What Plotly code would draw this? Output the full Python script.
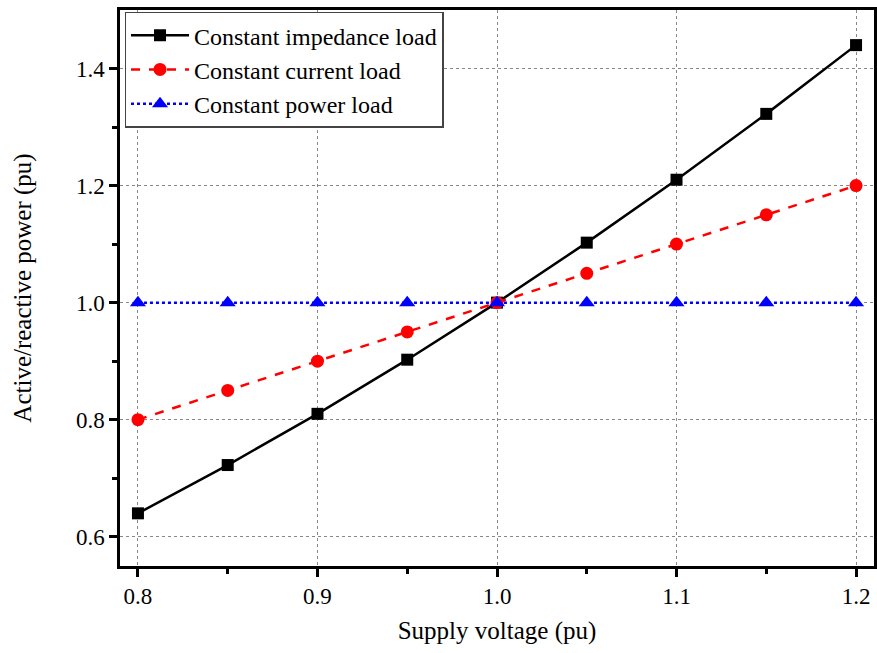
import plotly.graph_objects as go

voltage = [0.8, 0.85, 0.9, 0.95, 1.0, 1.05, 1.1, 1.15, 1.2]
const_impedance = [0.64, 0.7225, 0.81, 0.9025, 1.0, 1.1025, 1.21, 1.3225, 1.44]
const_current = [0.8, 0.85, 0.9, 0.95, 1.0, 1.05, 1.1, 1.15, 1.2]
const_power = [1.0, 1.0, 1.0, 1.0, 1.0, 1.0, 1.0, 1.0, 1.0]

FONT = "Liberation Serif, Times New Roman, serif"

fig = go.Figure()
fig.add_trace(go.Scatter(
    x=voltage, y=const_impedance, mode="lines+markers", name="Constant impedance load",
    line=dict(color="black", width=2.5, dash="solid"),
    marker=dict(symbol="square", size=12, color="black")))
fig.add_trace(go.Scatter(
    x=voltage, y=const_current, mode="lines+markers", name="Constant current load",
    line=dict(color="red", width=2.5, dash="dash"),
    marker=dict(symbol="circle", size=13, color="red")))
fig.add_trace(go.Scatter(
    x=voltage, y=const_power, mode="lines+markers", name="Constant power load",
    line=dict(color="blue", width=2.5, dash="dot"),
    marker=dict(symbol="triangle-up", size=14, color="blue")))

axis_common = dict(
    showline=True, linecolor="black", linewidth=2.5, mirror=True,
    ticks="outside", ticklen=8, tickwidth=2.5, tickcolor="black",
    showgrid=True, gridcolor="#888888", griddash="dot", gridwidth=1,
    zeroline=False, tickfont=dict(family=FONT, size=23, color="black"),
)

fig.update_layout(
    width=877, height=653,
    margin=dict(l=120, r=0, t=10, b=87),
    paper_bgcolor="white", plot_bgcolor="white",
    font=dict(family=FONT, color="black"),
    xaxis=dict(
        range=[0.79, 1.21], tickvals=[0.8, 0.9, 1.0, 1.1, 1.2],
        ticktext=["0.8", "0.9", "1.0", "1.1", "1.2"],
        minor=dict(tickvals=[0.85, 0.95, 1.05, 1.15], ticks="outside", ticklen=5,
                   tickwidth=2.5, tickcolor="black", showgrid=False),
        title=dict(text="Supply voltage (pu)", font=dict(family=FONT, size=25), standoff=14),
        **axis_common),
    yaxis=dict(
        range=[0.55, 1.5], tickvals=[0.6, 0.8, 1.0, 1.2, 1.4],
        ticktext=["0.6", "0.8", "1.0", "1.2", "1.4"],
        minor=dict(tickvals=[0.7, 0.9, 1.1, 1.3], ticks="outside", ticklen=5,
                   tickwidth=2.5, tickcolor="black", showgrid=False),
        title=dict(text="Active/reactive power (pu)", font=dict(family=FONT, size=25), standoff=38),
        **axis_common),
    legend=dict(
        x=0.006, y=0.997, xanchor="left", yanchor="top",
        bgcolor="white", bordercolor="#444444", borderwidth=1.5,
        font=dict(family=FONT, size=24, color="black"),
        tracegroupgap=0, itemwidth=58),
    showlegend=True,
)

fig.write_html("out.html")
